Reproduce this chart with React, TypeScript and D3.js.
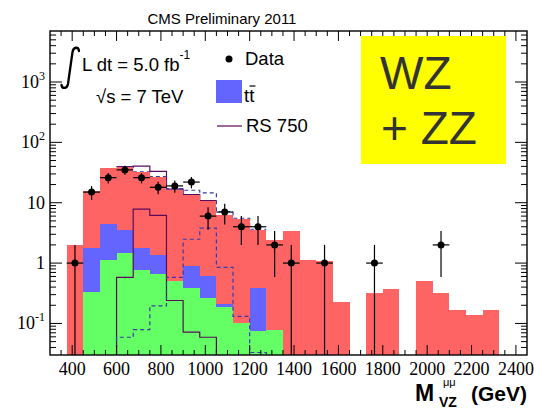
import * as d3 from "d3";

// histogram bins: low edges in GeV, every bin is 75 GeV wide
const binLow = [375, 450, 525, 600, 675, 750, 825, 900, 975, 1050, 1125, 1200, 1275,
  1350, 1425, 1500, 1575, 1650, 1725, 1800, 1875, 1950, 2025, 2100, 2175, 2250];
const binWidth = 75;

// stacked backgrounds (events / bin)
const vvBkg = [0, 0.33, 1.12, 1.49, 0.76, 0.66, 0.5, 0.39, 0.26, 0.187, 0.1, 0.074, 0.079,
  0, 0, 0, 0, 0, 0, 0, 0, 0, 0, 0, 0, 0];
const ttBkg = [0, 1.47, 3.38, 2.06, 1.04, 0.7, 0, 0.5, 0.35, 0.023, 0, 0.316, 0,
  0, 0, 0, 0, 0, 0, 0, 0, 0, 0, 0, 0, 0];
const zjBkg = [2.0, 13.6, 32.5, 35.45, 30.7, 25.44, 16.0, 12.71, 10.19, 6.09, 5.3, 3.21, 2.32,
  3.4, 1.12, 1.08, 0.23, 0, 0.32, 0.37, 0, 0.5, 0.32, 0.17, 0.14, 0.165];

// signal hypotheses
const rs750 = [0, 0, 0, 0.58, 7.85, 6.15, 0.24, 0.072, 0.059, 0, 0, 0, 0,
  0, 0, 0, 0, 0, 0, 0, 0, 0, 0, 0, 0, 0];
const rs1000 = [0, 0, 0, 0.059, 0.079, 0.195, 0.58, 2.48, 3.79, 0.85, 0.131, 0.033, 0,
  0, 0, 0, 0, 0, 0, 0, 0, 0, 0, 0, 0, 0];

// data points (bin centres), counts and errors
const dataMass = [412.5, 487.5, 562.5, 637.5, 712.5, 787.5, 862.5, 937.5, 1012.5, 1087.5,
  1162.5, 1237.5, 1312.5, 1387.5, 1537.5, 1762.5, 2062.5];
const dataCount = [1, 15, 26, 35, 26, 18, 19, 22, 6, 7, 4, 4, 2, 1, 1, 1, 2];
const dataErr = [1, 3.87, 5.1, 5.92, 5.1, 4.24, 4.36, 4.69, 2.45, 2.65, 2, 2, 1.41, 1, 1, 1, 1.41];

// axis labels
const xTickLabels = [400, 600, 800, 1000, 1200, 1400, 1600, 1800, 2000, 2200, 2400];
const yTickLabels = [
  { v: 0.1, base: "10", exp: "-1" },
  { v: 1, base: "1", exp: "" },
  { v: 10, base: "10", exp: "" },
  { v: 100, base: "10", exp: "2" },
  { v: 1000, base: "10", exp: "3" },
];

const RED = "#ff6464";
const BLUE = "#6464ff";
const GREEN = "#64ff64";
const PURPLE = "#5c0a5c";
const DASHBLUE = "#3a3aa8";

export default function App() {
  const W = 534, H = 409;
  const L = 50, R = 527, T = 31, B = 355;

  const x = d3.scaleLinear().domain([300, 2450]).range([L, R]);
  const y = d3.scaleLog().domain([0.03, 7000]).range([B, T]).clamp(true);

  const rows = binLow.map((lo, i) => ({ lo, vv: vvBkg[i], tt: ttBkg[i], zj: zjBkg[i] }));
  const layers = d3.stack<any>().keys(["vv", "tt", "zj"])(rows);
  const colors: Record<string, string> = { vv: GREEN, tt: BLUE, zj: RED };
  const totals = rows.map(r => r.vv + r.tt + r.zj);

  // signal alone, drawn from the axis floor
  const sigPath = (sig: number[]) => {
    const idx = sig.map((v, i) => (v > 0 ? i : -1)).filter(i => i >= 0);
    const p = d3.path();
    p.moveTo(x(binLow[idx[0]]), B);
    idx.forEach(i => {
      p.lineTo(x(binLow[i]), y(sig[i]));
      p.lineTo(x(binLow[i] + binWidth), y(sig[i]));
    });
    p.lineTo(x(binLow[idx[idx.length - 1]] + binWidth), B);
    return p.toString();
  };

  // signal stacked on top of the backgrounds
  const stackedSigPath = (sig: number[]) => {
    const idx = sig.map((v, i) => (v > 0 ? i : -1)).filter(i => i >= 0);
    const p = d3.path();
    idx.forEach((i, k) => {
      const v = totals[i] + sig[i];
      if (k === 0) p.moveTo(x(binLow[i]), y(v));
      else p.lineTo(x(binLow[i]), y(v));
      p.lineTo(x(binLow[i] + binWidth), y(v));
    });
    return p.toString();
  };

  const xMinor = d3.range(350, 2450, 50);
  const yMinor: number[] = [];
  for (let e = -2; e <= 3; e++) {
    for (let k = 1; k <= 9; k++) {
      const v = k * Math.pow(10, e);
      if (v > 0.03 && v < 7000) yMinor.push(v);
    }
  }

  const sans = "'Liberation Sans', Arial, sans-serif";
  const serif = "'Liberation Serif', 'Times New Roman', serif";

  return (
    <div style={{ position: "absolute", left: 0, top: 0 }}>
      <svg width={W} height={H} style={{ display: "block", background: "#fff" }}>
        {/* stacked signal+background outlines (under the stack) */}
        <path d={stackedSigPath(rs750)} fill="none" stroke={PURPLE} strokeWidth={1.2} />
        <path d={stackedSigPath(rs1000)} fill="none" stroke={DASHBLUE} strokeWidth={1.2} strokeDasharray="4 3" />

        {/* stacked backgrounds */}
        {[...layers].reverse().map(layer => (
          <g key={layer.key} fill={colors[layer.key]}>
            {layer.map((d, i) =>
              d[1] > 0 ? (
                <rect key={i} x={x(binLow[i])} width={x(binLow[i] + binWidth) - x(binLow[i])}
                  y={y(d[1])} height={B - y(d[1])} shapeRendering="crispEdges" />
              ) : null
            )}
          </g>
        ))}

        {/* signal shapes */}
        <path d={sigPath(rs750)} fill="none" stroke={PURPLE} strokeWidth={1.2} />
        <path d={sigPath(rs1000)} fill="none" stroke={DASHBLUE} strokeWidth={1.2} strokeDasharray="4 3" />

        {/* data */}
        <g stroke="#000" strokeWidth={1.2}>
          {dataMass.map((m, i) => (
            <g key={i}>
              <line x1={x(m)} x2={x(m)} y1={y(dataCount[i] + dataErr[i])}
                y2={dataCount[i] - dataErr[i] > 0 ? y(dataCount[i] - dataErr[i]) : B} />
              <line x1={x(m - binWidth / 2)} x2={x(m + binWidth / 2)} y1={y(dataCount[i])} y2={y(dataCount[i])} />
              <circle cx={x(m)} cy={y(dataCount[i])} r={3.5} fill="#000" stroke="none" />
            </g>
          ))}
        </g>

        {/* frame and ticks */}
        <rect x={L} y={T} width={R - L} height={B - T} fill="none" stroke="#000" strokeWidth={1.4} />
        <g stroke="#000" strokeWidth={1}>
          {xMinor.map(v => {
            const len = v % 200 === 0 ? 10 : 5;
            return (
              <g key={v}>
                <line x1={x(v)} x2={x(v)} y1={B} y2={B - len} />
                <line x1={x(v)} x2={x(v)} y1={T} y2={T + len} />
              </g>
            );
          })}
          {yMinor.map(v => {
            const major = Math.abs(Math.log10(v) - Math.round(Math.log10(v))) < 1e-9;
            const len = major ? 12 : 6;
            return (
              <g key={v}>
                <line x1={L} x2={L + len} y1={y(v)} y2={y(v)} />
                <line x1={R} x2={R - len} y1={y(v)} y2={y(v)} />
              </g>
            );
          })}
        </g>

        {/* tick labels */}
        <g fontFamily={serif} fontSize={18} fill="#000">
          {xTickLabels.map(v => (
            <text key={v} x={x(v)} y={375} textAnchor="middle">{v}</text>
          ))}
          {yTickLabels.map(t => (
            <text key={t.v} x={45} y={y(t.v) + 6} textAnchor="end">
              {t.base}
              {t.exp ? <tspan fontSize={12} dy={-8}>{t.exp}</tspan> : null}
            </text>
          ))}
        </g>

        {/* axis title */}
        <g fontFamily={sans} fontWeight="bold" fill="#000">
          <text x={415} y={401} fontSize={23}>M</text>
          <text x={439} y={407} fontSize={14}>VZ</text>
          <text x={443} y={386} fontSize={11} fontWeight="normal">μμ</text>
          <text x={527} y={401} fontSize={21} textAnchor="end">(GeV)</text>
        </g>

        {/* title */}
        <text x={222} y={24} fontFamily={sans} fontSize={15} textAnchor="middle">CMS Preliminary 2011</text>

        {/* luminosity / energy */}
        <path d="M 79 51 C 78.5 46.5, 73.5 46.5, 72.5 52 L 68 84 C 67 89, 62 89, 61.5 85"
          fill="none" stroke="#000" strokeWidth={2.3} strokeLinecap="round" />
        <text x={82} y={71} fontFamily={sans} fontSize={18.5}>
          L dt = 5.0 fb<tspan fontSize={12} dy={-12}>-1</tspan>
        </text>
        <text x={96} y={103} fontFamily={sans} fontSize={18.5}>√s = 7 TeV</text>

        {/* legend */}
        <circle cx={229} cy={59} r={3.5} fill="#000" />
        <text x={245} y={65} fontFamily={sans} fontSize={18.5}>Data</text>
        <rect x={216} y={80} width={26} height={23} fill={BLUE} />
        <text x={244} y={102} fontFamily={sans} fontSize={18.5}>tt</text>
        <line x1={249.5} x2={255.5} y1={86} y2={86} stroke="#000" strokeWidth={1.2} />
        <line x1={217} x2={242} y1={126} y2={126} stroke={PURPLE} strokeWidth={1.2} />
        <text x={246} y={132} fontFamily={sans} fontSize={18.5}>RS 750</text>

        {/* channel label */}
        <rect x={361} y={36} width={145} height={128} fill="#ffff00" />
        <text x={380} y={89} fontFamily={sans} fontSize={46} fill="#333">WZ</text>
        <text x={381} y={144} fontFamily={sans} fontSize={46} fill="#333">+ ZZ</text>
      </svg>
    </div>
  );
}
